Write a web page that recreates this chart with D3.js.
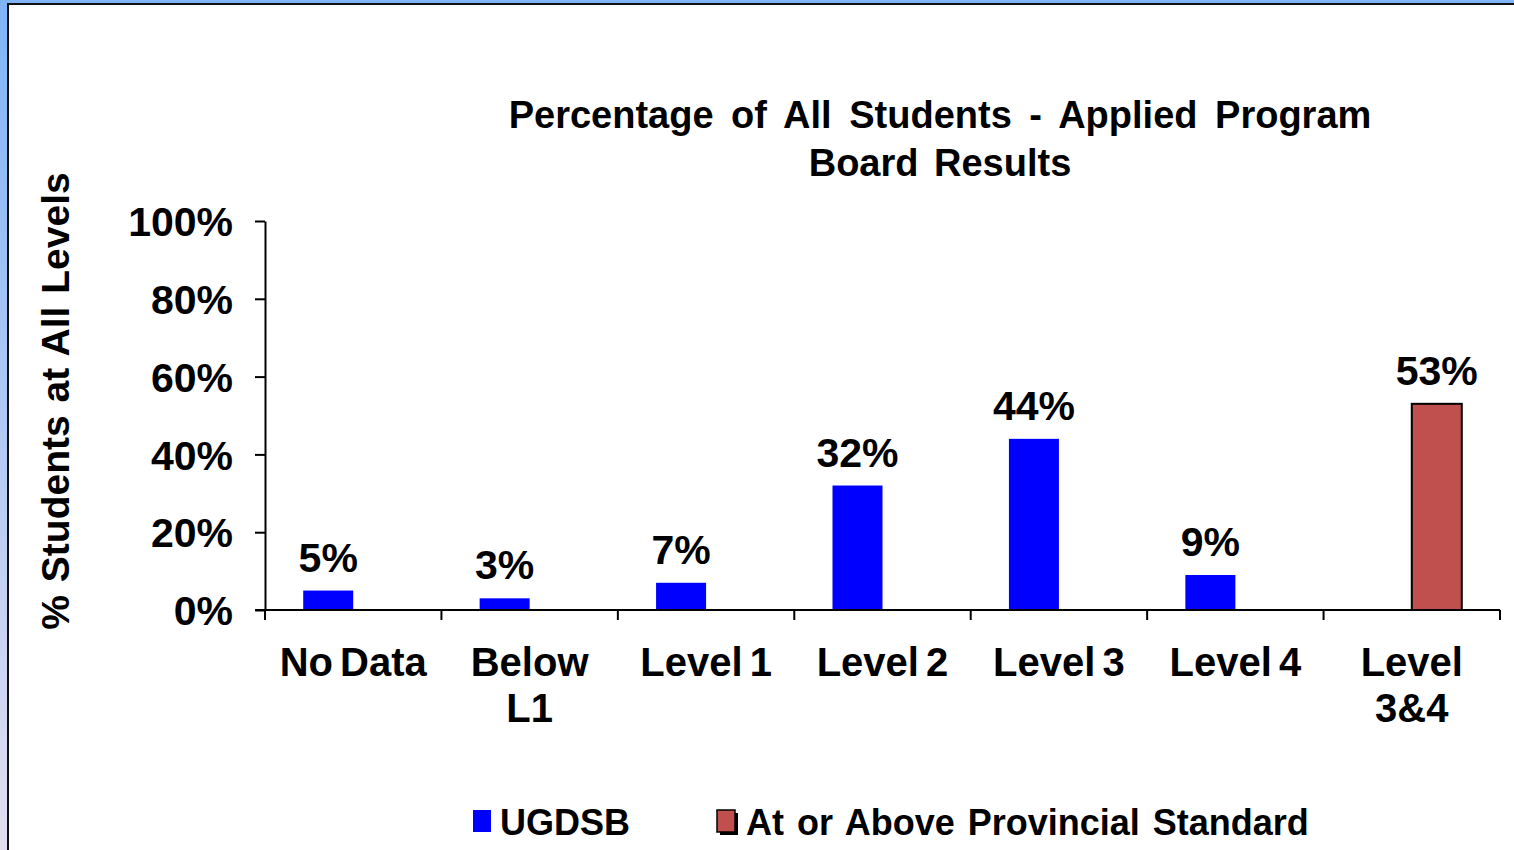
<!DOCTYPE html>
<html><head><meta charset="utf-8">
<script src="https://cdn.jsdelivr.net/npm/d3@7"></script>
<style>
html,body{margin:0;padding:0;overflow:hidden;background:#fff;}
svg{display:block;}
text{font-family:"Liberation Sans",Arial,sans-serif;font-weight:bold;fill:#000;}
</style></head>
<body>
<svg id="c" width="1514" height="850"></svg>
<script>
const categories = ["No Data","Below L1","Level 1","Level 2","Level 3","Level 4","Level 3&4"];
const categoryLines = [["No Data"],["Below","L1"],["Level 1"],["Level 2"],["Level 3"],["Level 4"],["Level","3&4"]];
const seriesNames = ["UGDSB","At or Above Provincial Standard"];
const ugdsbValues = [5,3,7,32,44,9,null];
const provincialValues = [null,null,null,null,null,null,53];
const yTicks = [0,20,40,60,80,100];
const titleLines = ["Percentage of All Students - Applied Program","Board Results"];
const yTitle = "% Students at All Levels";

const svg = d3.select("#c");
const defs = svg.append("defs");
const g = defs.append("linearGradient").attr("id","bg").attr("x1",0).attr("y1",0).attr("x2",0).attr("y2",1);
g.append("stop").attr("offset","0%").attr("stop-color","#7fb4f7");
g.append("stop").attr("offset","100%").attr("stop-color","#e2def0");
svg.append("rect").attr("width",1514).attr("height",850).attr("fill","url(#bg)");
svg.append("rect").attr("x",8).attr("y",4).attr("width",1520).attr("height",860)
  .attr("fill","#fff").attr("stroke","#111").attr("stroke-width",2);

const x = d3.scaleBand().domain(categories).range([265,1500]).paddingInner(0).paddingOuter(0);
const bw = x.bandwidth();
const x1 = d3.scaleBand().domain(seriesNames).range([0,bw]).paddingInner(0).paddingOuter((bw/50-2)/2);
const y = d3.scaleLinear().domain([0,100]).range([610,221]);

// title
svg.append("text").attr("x",940).attr("y",128).attr("text-anchor","middle")
  .style("font-size","38px").style("word-spacing","7px").text(titleLines[0]);
svg.append("text").attr("x",940).attr("y",176).attr("text-anchor","middle")
  .style("font-size","38px").style("word-spacing","5px").text(titleLines[1]);

// y title
svg.append("text").attr("transform","translate(69,401) rotate(-90)").attr("text-anchor","middle")
  .style("font-size","39px").style("word-spacing","2px").text(yTitle);

// bars
const data = categories.map((c,i)=>({c, vals:[ugdsbValues[i],provincialValues[i]]}));
const colors = ["#0000ff","#c0504d"];
const grp = svg.append("g");
data.forEach(d=>{
  d.vals.forEach((v,j)=>{
    if(v==null) return;
    const bx = x(d.c)+x1(seriesNames[j]);
    grp.append("rect").attr("x",bx).attr("y",y(v)).attr("width",x1.bandwidth()).attr("height",y(0)-y(v))
      .attr("fill",colors[j]).attr("stroke",j===1?"#000":"none").attr("stroke-width",2);
    grp.append("text").attr("x",bx+x1.bandwidth()/2).attr("y",y(v)-19).attr("text-anchor","middle")
      .style("font-size","41px").text(v+"%");
  });
});

// y axis
const ya = svg.append("g").attr("transform","translate(265,0)")
  .call(d3.axisLeft(y).tickValues(yTicks).tickSize(10).tickSizeOuter(0).tickFormat(d=>d+"%"));
ya.select(".domain").attr("stroke","#000").attr("stroke-width",2);
ya.selectAll(".tick line").attr("stroke","#000").attr("stroke-width",2);
ya.selectAll(".tick text").attr("x",-32).attr("dy","0.36em").style("font-size","41px").style("font-family","'Liberation Sans',Arial,sans-serif");

// x axis
const xa = svg.append("g").attr("transform","translate(0,610)");
xa.append("line").attr("x1",255).attr("x2",1500).attr("y1",0).attr("y2",0).attr("stroke","#000").attr("stroke-width",2);
const bounds = categories.map(c=>x(c)).concat([x.range()[1]]);
xa.selectAll("line.t").data(bounds).enter().append("line").attr("class","t")
  .attr("x1",d=>d).attr("x2",d=>d).attr("y1",0).attr("y2",10).attr("stroke","#000").attr("stroke-width",2);
categories.forEach((c,i)=>{
  const t = svg.append("text").attr("text-anchor","middle").style("font-size","40px").style("word-spacing","-4px");
  categoryLines[i].forEach((ln,k)=>{
    t.append("tspan").attr("x",x(c)+bw/2).attr("y",676+k*46).text(ln);
  });
});

// legend
const leg = [{x:473,name:seriesNames[0],tx:500},{x:717,name:seriesNames[1],tx:746}];
svg.append("rect").attr("x",473).attr("y",810).attr("width",18).attr("height",22).attr("fill",colors[0]);
svg.append("rect").attr("x",720).attr("y",813).attr("width",18).attr("height",22).attr("fill","#000");
svg.append("rect").attr("x",717).attr("y",810).attr("width",18).attr("height",22).attr("fill",colors[1]).attr("stroke","#000").attr("stroke-width",1.5);
leg.forEach(l=>{
  svg.append("text").attr("x",l.tx).attr("y",835).style("font-size","36px").style("word-spacing","3px").text(l.name);
});
</script>
</body></html>
